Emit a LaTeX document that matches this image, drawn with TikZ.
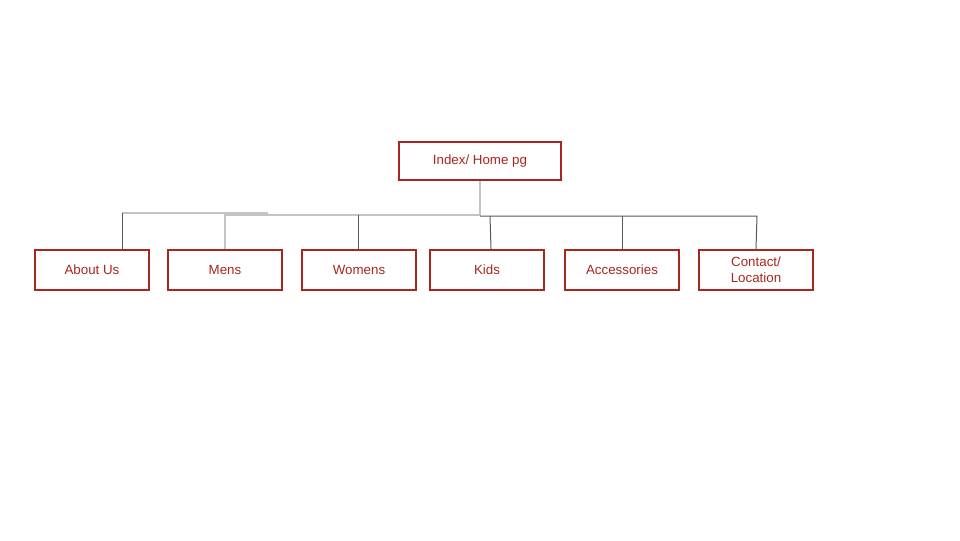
\documentclass[tikz,border=0pt]{standalone}
\usepackage{fontspec}
\setmainfont{Liberation Sans}
\definecolor{pagered}{HTML}{A8261B}
\definecolor{linegrey}{HTML}{C4C4C4}
\definecolor{linedark}{HTML}{595959}
\begin{document}
\begin{tikzpicture}[x=0.75pt, y=-0.75pt,
    page/.style={draw=pagered, line width=1.5pt, text=pagered, minimum width=85.5pt, minimum height=30pt, inner sep=0pt, align=center, font=\fontsize{10}{12}\selectfont},
    greyline/.style={draw=linegrey, line width=2pt},
    darkline/.style={draw=linedark, line width=0.75pt}]
    \useasboundingbox (0, 0) rectangle (960, 540);

    % Home
    \node[page, minimum width=121.5pt, minimum height=28.5pt] (home) at (480, 161) {Index/ Home pg};

    % Pages
    \node[page] (about) at (92, 270) {About Us};
    \node[page] (mens) at (225, 270) {Mens};
    \node[page] (womens) at (359, 270) {Womens};
    \node[page] (kids) at (487, 270) {Kids};
    \node[page] (accessories) at (622, 270) {Accessories};
    \node[page] (contact) at (756, 270) {Contact/\\Location};

    % Joints
    \coordinate (split) at (480, 215);
    \coordinate (aboutjoint) at (122, 213);
    \coordinate (greyend) at (268, 213);
    \coordinate (womensjoint) at (358, 215);
    \coordinate (kidsjoint) at (490, 216);
    \coordinate (darkstart) at (480, 216);
    \coordinate (darkend) at (757, 216);

    % Grey branch
    \draw[greyline] (aboutjoint) -- (greyend);
    \draw[greyline] (home) -- (split) -| (mens);

    % Dark branches
    \draw[darkline] (aboutjoint) -- (aboutjoint |- about.north);
    \draw[darkline] (womensjoint) -- (womensjoint |- womens.north);
    \draw[darkline] (kidsjoint) -- ([xshift=0.75pt]kidsjoint |- kids.north);
    \draw[darkline] (darkstart) -- (darkend) -- ([xshift=-0.75pt]darkend |- contact.north);
    \draw[darkline] (darkstart -| accessories) -- (accessories);
\end{tikzpicture}
\end{document}
